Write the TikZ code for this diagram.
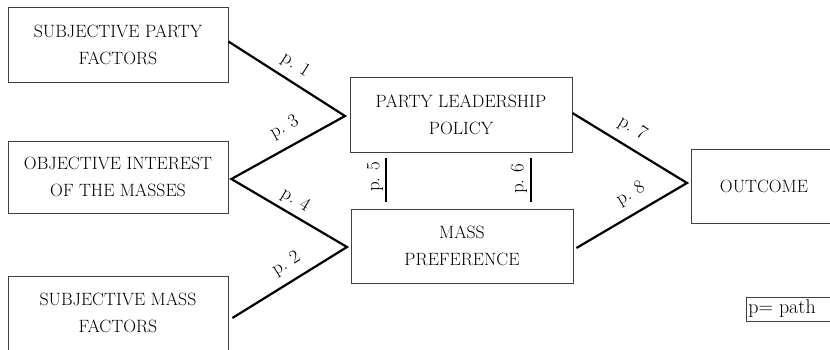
\documentclass[tikz,border=0pt]{standalone}
\usetikzlibrary{calc}
\begin{document}
\begin{tikzpicture}[x=1pt,y=-1pt,
  box/.style={draw=black!75, line width=0.8pt, align=center, inner sep=0pt,
    font=\fontsize{17.8}{27}\selectfont, text=black},
  link/.style={line width=2.2pt, line join=miter},
  plabel/.style={font=\fontsize{19}{20}\selectfont, inner sep=1pt, text=black}]
  \clip (0,0) rectangle (830,349);

  % factor boxes on the left
  \node[box, minimum width=220, minimum height=75] (spf) at (118,44.5) {SUBJECTIVE PARTY\\FACTORS};
  \node[box, minimum width=220, minimum height=72] (oim) at (118,177) {OBJECTIVE INTEREST\\OF THE MASSES};
  \node[box, minimum width=220, minimum height=74] (smf) at (118,313) {SUBJECTIVE MASS\\FACTORS};

  % middle boxes
  \node[box, minimum width=222, minimum height=75] (plp) at (461,114.5) {PARTY LEADERSHIP\\POLICY};
  \node[box, minimum width=222, minimum height=74] (mp) at (462,246) {MASS\\PREFERENCE};

  % outcome and legend
  \node[box, minimum width=146, minimum height=74] (out) at (764,186) {OUTCOME};
  \node[box, anchor=west, text width=86, align=left, inner sep=2pt, minimum height=24,
    font=\fontsize{20}{22}\selectfont] (key) at (746,309) {p=\hspace{0.3em}path};

  % junction points of the paths
  \coordinate (j1) at (345,116);
  \coordinate (j2) at (347,247);
  \coordinate (j3) at (687,183);
  \coordinate (c5) at (386,0);
  \coordinate (c6) at (531,0);

  % paths
  \draw[link] ([yshift=3]spf.east) -- node[plabel, sloped, above=6pt, pos=0.5] (l1) {p.\hspace{0.35em}1} (j1)
     -- node[plabel, sloped, above=9pt, pos=0.45] (l3) {p.\hspace{0.35em}3} ([xshift=3,yshift=-2]oim.east)
     -- node[plabel, sloped, above=4pt, pos=0.49] (l4) {p.\hspace{0.35em}4} (j2)
     -- node[plabel, sloped, above=7pt, pos=0.45] (l2) {p.\hspace{0.35em}2} ([xshift=4,yshift=-5]smf.east);
  \draw[link] ([yshift=1.5]plp.east) -- node[plabel, sloped, above=8pt, pos=0.44] (l7) {p.\hspace{0.35em}7} (j3)
     -- node[plabel, sloped, above=9pt, pos=0.42] (l8) {p.\hspace{0.35em}8} ([xshift=3,yshift=-2]mp.east);

  % links between the two middle boxes
  \draw[link, line width=2pt, shorten <=6, shorten >=7] (c5 |- plp.south) -- (c5 |- mp.north);
  \draw[link, line width=2pt, shorten <=6, shorten >=7] (c6 |- plp.south) -- (c6 |- mp.north);
  \node[plabel, rotate=90] (l5) at (375,177) {p.\hspace{0.35em}5};
  \node[plabel, rotate=90] (l6) at (519,179) {p.\hspace{0.35em}6};
\end{tikzpicture}
\end{document}
